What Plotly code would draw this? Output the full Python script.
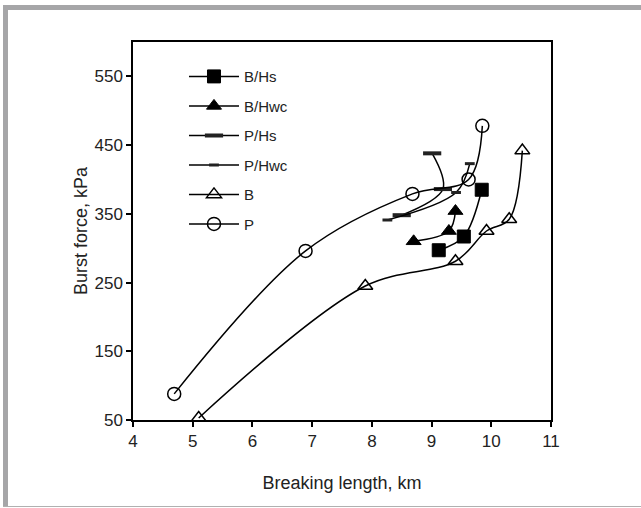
import plotly.graph_objects as go

# ---- data ----
series_names = ["B/Hs", "B/Hwc", "P/Hs", "P/Hwc", "B", "P"]

bhs_x = [9.12, 9.54, 9.84]
bhs_y = [297, 317, 385]

bhwc_x = [8.70, 9.29, 9.40]
bhwc_y = [310, 325, 354]

phs_x = [8.50, 9.19, 9.01]
phs_y = [348, 386, 438]

phwc_x = [8.26, 9.41, 9.64]
phwc_y = [341, 381, 423]

b_x = [5.10, 7.89, 9.40, 9.92, 10.30, 10.52]
b_y = [53, 245, 281, 325, 342, 442]

p_x = [4.69, 6.89, 8.68, 9.62, 9.85]
p_y = [88, 296, 379, 400, 478]

x_ticks = [4, 5, 6, 7, 8, 9, 10, 11]
y_ticks = [50, 150, 250, 350, 450, 550]

FONT = "Liberation Sans, Arial, sans-serif"

fig = go.Figure()

line = dict(color="black", width=1.5, shape="spline", smoothing=1.0)

styles = [
    (bhs_x, bhs_y, dict(symbol="square", size=13, color="black", line=dict(color="black", width=1))),
    (bhwc_x, bhwc_y, dict(symbol="triangle-up", size=13, color="black", line=dict(color="black", width=1))),
    (phs_x, phs_y, dict(symbol="line-ew", size=13, color="#333333", line=dict(color="#222222", width=4))),
    (phwc_x, phwc_y, dict(symbol="line-ew", size=7, color="#333333", line=dict(color="#222222", width=3))),
    (b_x, b_y, dict(symbol="triangle-up-open", size=13, color="black", line=dict(color="black", width=1.5))),
    (p_x, p_y, dict(symbol="circle-open", size=13, color="black", line=dict(color="black", width=1.5))),
]

for i, (name, (xs, ys, mk)) in enumerate(zip(series_names, styles)):
    fig.add_trace(go.Scatter(
        x=xs, y=ys, name=name, mode="lines+markers",
        line=line, marker=mk, legendgroup=f"g{i}",
    ))

fig.update_layout(
    width=641, height=508,
    margin=dict(l=133, r=90, t=42, b=88),
    paper_bgcolor="white", plot_bgcolor="white",
    font=dict(family=FONT, size=17, color="#222222"),
    showlegend=True,
    legend=dict(
        x=0.122, y=0.952, xanchor="left", yanchor="top",
        bgcolor="rgba(0,0,0,0)", borderwidth=0,
        font=dict(family=FONT, size=15, color="#222222"),
        itemwidth=50, tracegroupgap=7,
    ),
    xaxis=dict(
        range=[4, 11], tickvals=x_ticks, ticktext=[str(v) for v in x_ticks],
        showline=True, linecolor="black", linewidth=1.5, mirror=True,
        ticks="outside", ticklen=5, tickcolor="black", tickwidth=1.5,
        showgrid=False, zeroline=False,
        title=dict(text="Breaking length, km", standoff=26, font=dict(size=18)),
    ),
    yaxis=dict(
        range=[50, 600], tickvals=y_ticks, ticktext=[str(v) for v in y_ticks],
        showline=True, linecolor="black", linewidth=1.5, mirror=True,
        ticks="outside", ticklen=5, tickcolor="black", tickwidth=1.5,
        showgrid=False, zeroline=False,
        title=dict(text="Burst force, kPa", standoff=2, font=dict(size=18)),
    ),
    shapes=[
        dict(type="rect", xref="paper", yref="paper", x0=-130/418, x1=508/418, y0=1+32/378, y1=1+37/378,
             fillcolor="#a6a6a8", line=dict(width=0), layer="below"),
        dict(type="rect", xref="paper", yref="paper", x0=-130/418, x1=-125/418, y0=-87/378, y1=1+37/378,
             fillcolor="#a6a6a8", line=dict(width=0), layer="below"),
        dict(type="rect", xref="paper", yref="paper", x0=-130/418, x1=508/418, y0=-87/378, y1=-86/378,
             fillcolor="#b0b0b0", line=dict(width=0), layer="below"),
    ],
)

fig.write_html("out.html")
